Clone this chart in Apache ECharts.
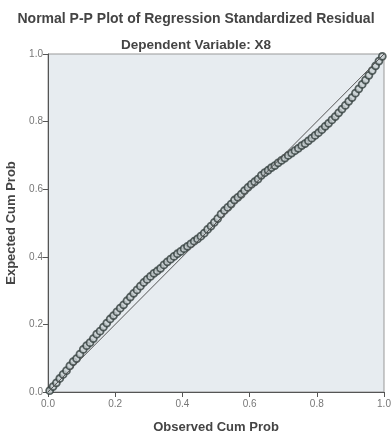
<!DOCTYPE html>
<html>
<head>
<meta charset="utf-8">
<script src="https://cdn.jsdelivr.net/npm/echarts@6/dist/echarts.min.js"></script>
<style>
html,body{margin:0;padding:0;background:#fff;}
#main{width:392px;height:438px;}
</style>
</head>
<body>
<div id="main"></div>
<script>
var observed = [0.005,0.015,0.025,0.035,0.045,0.055,0.065,0.075,0.085,0.095,
    0.105,0.115,0.125,0.135,0.145,0.155,0.165,0.175,0.185,0.195,
    0.205,0.215,0.225,0.235,0.245,0.255,0.265,0.275,0.285,0.295,
    0.305,0.315,0.325,0.335,0.345,0.355,0.365,0.375,0.385,0.395,
    0.405,0.415,0.425,0.435,0.445,0.455,0.465,0.475,0.485,0.495,
    0.505,0.515,0.525,0.535,0.545,0.555,0.565,0.575,0.585,0.595,
    0.605,0.615,0.625,0.635,0.645,0.655,0.665,0.675,0.685,0.695,
    0.705,0.715,0.725,0.735,0.745,0.755,0.765,0.775,0.785,0.795,
    0.805,0.815,0.825,0.835,0.845,0.855,0.865,0.875,0.885,0.895,
    0.905,0.915,0.925,0.935,0.945,0.955,0.965,0.975,0.985,0.995];
var expected = [0.004,0.016,0.027,0.040,0.052,0.063,0.077,0.090,0.099,0.112,
    0.126,0.137,0.146,0.158,0.171,0.180,0.192,0.204,0.216,0.226,
    0.237,0.248,0.258,0.270,0.281,0.292,0.302,0.313,0.324,0.333,
    0.342,0.351,0.358,0.366,0.376,0.385,0.393,0.401,0.409,0.416,
    0.424,0.431,0.438,0.446,0.453,0.461,0.470,0.481,0.491,0.502,
    0.513,0.526,0.537,0.546,0.556,0.568,0.576,0.585,0.596,0.605,
    0.614,0.622,0.630,0.641,0.649,0.656,0.664,0.670,0.678,0.685,
    0.692,0.700,0.707,0.714,0.721,0.729,0.735,0.743,0.751,0.759,
    0.767,0.776,0.786,0.795,0.805,0.815,0.826,0.837,0.848,0.860,
    0.871,0.884,0.897,0.910,0.923,0.937,0.951,0.965,0.979,0.993];
var refLine = [[0, 0], [1, 1]];

var chart = echarts.init(document.getElementById('main'));
var pts = [];
for (var i = 0; i < observed.length; i++) {
    pts.push([observed[i], expected[i]]);
}

var axisCommon = {
    type: 'value',
    min: 0,
    max: 1,
    interval: 0.2,
    nameLocation: 'middle',
    nameTextStyle: {
        fontFamily: 'Liberation Sans',
        fontSize: 13,
        fontWeight: 'bold',
        color: '#444'
    },
    axisLine: {show: true, lineStyle: {color: '#555', width: 1}},
    axisTick: {show: true, inside: false, length: 5, lineStyle: {color: '#555'}},
    axisLabel: {
        fontFamily: 'Liberation Sans',
        fontSize: 10,
        color: '#777',
        formatter: function (v) { return v.toFixed(1); }
    },
    splitLine: {show: false}
};

var option = {
    backgroundColor: '#fff',
    animation: false,
    title: [
        {
            text: 'Normal P-P Plot of Regression Standardized Residual',
            left: 'center',
            top: 7,
            textStyle: {fontFamily: 'Liberation Sans', fontSize: 14, fontWeight: 'bold', color: '#444'}
        },
        {
            text: 'Dependent Variable: X8',
            left: 'center',
            top: 33,
            textStyle: {fontFamily: 'Liberation Sans', fontSize: 13.5, fontWeight: 'bold', color: '#444'}
        }
    ],
    grid: {
        left: 48,
        right: 8,
        top: 54,
        bottom: 46,
        outerBoundsMode: 'none',
        show: true,
        backgroundColor: '#e7ecf0',
        borderColor: '#999',
        borderWidth: 1
    },
    xAxis: Object.assign({}, axisCommon, {
        name: 'Observed Cum Prob',
        nameGap: 29,
        axisLabel: Object.assign({}, axisCommon.axisLabel, {margin: 7})
    }),
    yAxis: Object.assign({}, axisCommon, {
        name: 'Expected Cum Prob',
        nameGap: 28,
        axisLabel: Object.assign({}, axisCommon.axisLabel, {margin: 5})
    }),
    series: [
        {
            type: 'line',
            data: refLine,
            symbol: 'none',
            lineStyle: {color: '#555', width: 1},
            z: 3
        },
        {
            type: 'scatter',
            data: pts,
            symbol: 'circle',
            symbolSize: 7,
            itemStyle: {color: '#c9d1d3', borderColor: '#35403e', borderWidth: 1.8},
            z: 2
        }
    ]
};

option && chart.setOption(option);
</script>
</body>
</html>
